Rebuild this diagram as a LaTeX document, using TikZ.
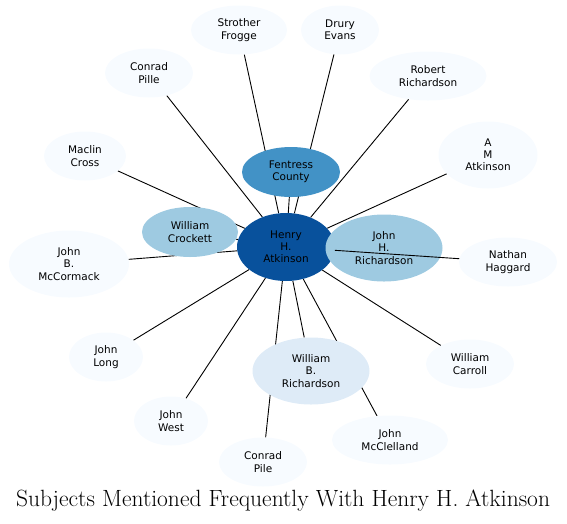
\documentclass[tikz,border=0pt]{standalone}
\usepackage{fontspec}
\newfontfamily\nodefont{DejaVu Sans}
\usepackage{tikz}
\usetikzlibrary{shapes.geometric,backgrounds}
\definecolor{bluea}{HTML}{08519C}
\definecolor{blueb}{HTML}{4292C6}
\definecolor{bluec}{HTML}{9ECAE1}
\definecolor{blued}{HTML}{DEEBF7}
\definecolor{bluee}{HTML}{F7FBFF}

\begin{document}
\begin{tikzpicture}[
  x=1pt,y=-1pt,
  font=\nodefont\fontsize{10.5}{12.2}\selectfont,
  nd/.style={ellipse,draw=none,inner sep=0pt,align=center,text=black},
  hub/.style={nd,fill=bluea,minimum width=98pt,minimum height=68pt},
  big/.style={nd,fill=blueb,minimum width=98pt,minimum height=50pt},
  mid/.style={nd,fill=bluec,minimum height=50pt},
  sm/.style={nd,fill=blued,minimum height=67pt},
  leaf/.style={nd,fill=bluee,minimum height=49pt},
  ln/.style={draw=black,line width=0.9pt}
]
\useasboundingbox (0,0) rectangle (567,523);

\node[hub] (henry) at (286,247) {Henry\\H.\\Atkinson};
\node[big] (fentress) at (291,172) {Fentress\\County};
\node[mid,minimum width=96pt] (crockett) at (190,232) {William\\Crockett};
\node[mid,minimum width=117pt,minimum height=67pt] (jhrich) at (384,248) {John\\H.\\Richardson};
\node[sm,minimum width=117pt] (wbrich) at (311,371) {William\\B.\\Richardson};

\node[leaf,minimum width=96pt] (frogge) at (239,30) {Strother\\Frogge};
\node[leaf,minimum width=78pt] (evans) at (340,30) {Drury\\Evans};
\node[leaf,minimum width=88pt] (pille) at (149,73) {Conrad\\Pille};
\node[leaf,minimum width=117pt] (robert) at (428,76) {Robert\\Richardson};
\node[leaf,minimum width=82pt] (cross) at (85,156) {Maclin\\Cross};
\node[leaf,minimum width=99pt,minimum height=67pt] (amatk) at (488,155) {A\\M\\Atkinson};
\node[leaf,minimum width=120pt,minimum height=67pt] (mccormack) at (69,264) {John\\B.\\McCormack};
\node[leaf,minimum width=98pt] (haggard) at (508,262) {Nathan\\Haggard};
\node[leaf,minimum width=74pt] (long) at (106,357) {John\\Long};
\node[leaf,minimum width=88pt] (carroll) at (470,364) {William\\Carroll};
\node[leaf,minimum width=74pt] (west) at (171,421) {John\\West};
\node[leaf,minimum width=88pt] (pile) at (263,462) {Conrad\\Pile};
\node[leaf,minimum width=116pt] (mcclelland) at (390,440) {John\\McClelland};

% edges under the nodes
\begin{scope}[on background layer]
\foreach \n in {fentress,crockett,jhrich,wbrich,frogge,evans,pille,robert,
                cross,amatk,mccormack,long,carroll,west,pile,mcclelland}
  \draw[ln] (henry) -- (\n);
\end{scope}
\draw[ln] (haggard) -- (henry);

\node[font=\fontsize{23.5}{26}\selectfont] (title) at (283,501)
  {Subjects Mentioned Frequently With Henry H. Atkinson};
\end{tikzpicture}
\end{document}
